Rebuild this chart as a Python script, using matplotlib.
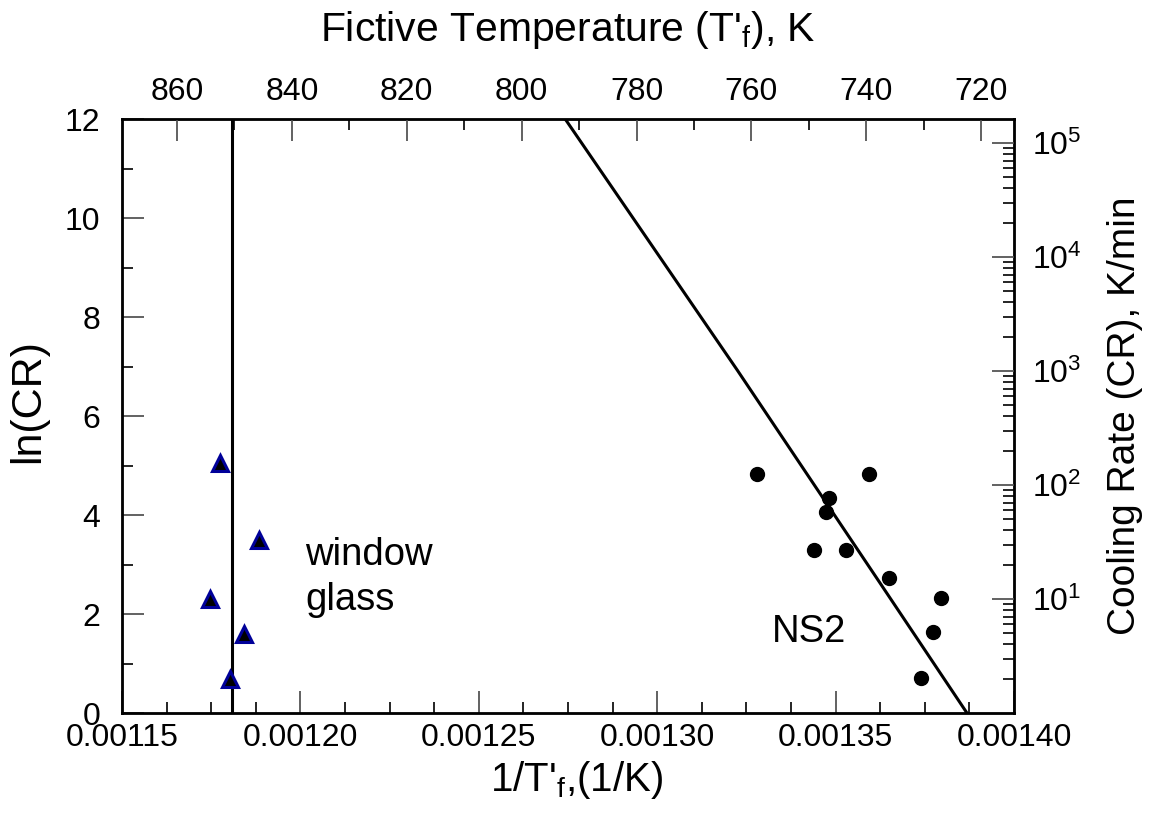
import numpy as np
import matplotlib.pyplot as plt
from matplotlib.ticker import MultipleLocator, LogLocator, NullFormatter

plt.rcParams['font.family'] = ['Liberation Sans', 'DejaVu Sans']
plt.rcParams['mathtext.default'] = 'regular'

# window glass data (triangles)
wg_x = [0.0011775, 0.0011884, 0.0011747, 0.0011842, 0.0011803]
wg_y = [5.05, 3.49, 2.30, 1.60, 0.69]
wg_line_x = 0.0011808

# NS2 data (circles)
ns2_x = [0.0013279, 0.0013594, 0.0013481, 0.0013472, 0.0013440,
         0.0013528, 0.0013649, 0.0013795, 0.0013774, 0.0013739]
ns2_y = [4.82, 4.82, 4.35, 4.07, 3.29, 3.29, 2.73, 2.33, 1.63, 0.71]

# NS2 fit line
fit_x = [0.0012742, 0.0013224, 0.0013624, 0.0013868]
fit_y = [12.0, 6.93, 2.63, 0.0]

xlim = (0.00115, 0.00140)
ylim = (0, 12)
top_ticks = [860, 840, 820, 800, 780, 760, 740, 720]
right_ticks = [1e1, 1e2, 1e3, 1e4, 1e5]

tick_fs = 23
label_fs = 27.5

fig = plt.figure(figsize=(11.58, 8.26), dpi=100)
ax = fig.add_axes([0.1054, 0.1368, 0.7703, 0.7191])

ax.axvline(wg_line_x, color='black', lw=2.2)
ax.plot(fit_x, fit_y, color='black', lw=2.2)
ax.plot(wg_x, wg_y, linestyle='none', marker='^', markersize=11,
        markerfacecolor='black', markeredgecolor='#000099', markeredgewidth=2.2)
ax.plot(ns2_x, ns2_y, linestyle='none', marker='o', markersize=10,
        color='black')

ax.set_xlim(xlim)
ax.set_ylim(ylim)
ax.xaxis.set_major_locator(MultipleLocator(0.00005))
ax.xaxis.set_minor_locator(MultipleLocator(0.0000125))
ax.yaxis.set_major_locator(MultipleLocator(2))
ax.yaxis.set_minor_locator(MultipleLocator(1))
ax.xaxis.set_major_formatter(plt.FuncFormatter(lambda v, p: f'{v:.5f}'))

ax.tick_params(which='both', direction='in', top=False, right=False,
               labelsize=tick_fs)
ax.tick_params(which='major', length=16, width=1.3, color='#555555')
ax.tick_params(which='minor', length=8, width=1.2, color='black')
ax.tick_params(axis='y', which='major', pad=15.5)
ax.tick_params(axis='x', which='major', pad=7)

for s in ax.spines.values():
    s.set_linewidth(2)

ax.text(0.0012013, 2.99, 'window', fontsize=label_fs)
ax.text(0.0012013, 2.08, 'glass', fontsize=label_fs)
ax.text(0.0013322, 1.43, 'NS2', fontsize=label_fs)

ax.set_xlabel("1/T'$_f$,(1/K)", fontsize=29)
ax.set_ylabel('ln(CR)', fontsize=31)
ax.xaxis.set_label_coords(0.51, -0.113)
ax.xaxis.label.set_va('center')
ax.yaxis.set_label_coords(-0.105, 0.525)
ax.yaxis.label.set_va('center')

# top axis: fictive temperature
axt = ax.twiny()
axt.set_xlim(1 / xlim[0], 1 / xlim[1])
axt.set_xticks(top_ticks)
axt.xaxis.set_minor_locator(MultipleLocator(10))
axt.tick_params(which='both', direction='in', labelsize=tick_fs)
axt.tick_params(which='major', length=16, width=1.3, color='#555555', pad=8.5)
axt.tick_params(which='minor', length=8, width=1.2, color='black')
axt.set_xlabel("Fictive Temperature (T'$_f$), K", fontsize=29.4)
axt.xaxis.set_label_coords(0.5, 1.150)
axt.xaxis.label.set_va('center')

# right axis: cooling rate
axr = ax.twinx()
axr.set_yscale('log')
axr.set_ylim(np.exp(ylim[0]), np.exp(ylim[1]))
axr.yaxis.set_major_locator(LogLocator(base=10))
axr.set_yticks(right_ticks)
axr.yaxis.set_minor_locator(LogLocator(base=10, subs=np.arange(2, 10)))
axr.yaxis.set_minor_formatter(NullFormatter())
axr.tick_params(which='both', direction='in', labelsize=tick_fs)
axr.tick_params(which='major', length=16, width=1.3, color='#555555', pad=13)
axr.tick_params(which='minor', length=8, width=1.2, color='black')
axr.set_ylabel('Cooling Rate (CR), K/min', fontsize=28)
axr.yaxis.set_label_coords(1.124, 0.5)
axr.yaxis.label.set_va('center')

fig.savefig('out.png', dpi=100)
